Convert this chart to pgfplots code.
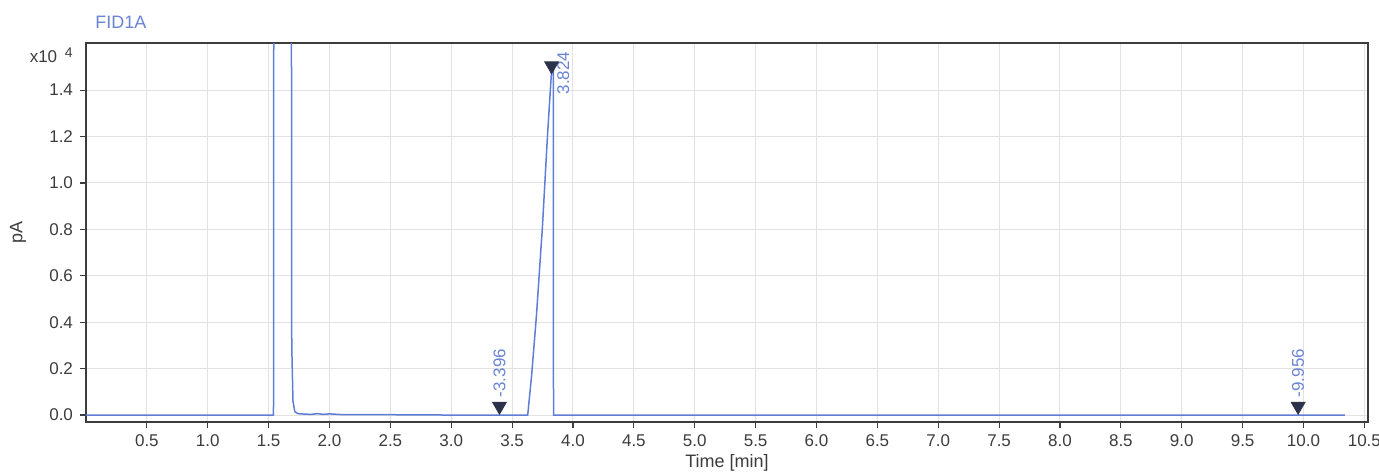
\documentclass[border=0pt]{standalone}
\usepackage{pgfplots}
\pgfplotsset{compat=1.18}
\usepackage{fontspec}
\setmainfont{Liberation Sans}
\definecolor{sig}{RGB}{95,125,215}
\definecolor{lab}{RGB}{105,132,212}
\definecolor{mk}{RGB}{45,50,75}
\definecolor{axc}{RGB}{60,60,60}
\definecolor{grd}{RGB}{226,226,226}
\begin{document}
\begin{tikzpicture}
\begin{axis}[
    scale only axis,
    width=641pt, height=189.5pt,
    xmin=0, xmax=10.53,
    ymin=-0.03, ymax=1.603,
    xtick={0.5,1,1.5,2,2.5,3,3.5,4,4.5,5,5.5,6,6.5,7,7.5,8,8.5,9,9.5,10,10.5},
    ytick={0,0.2,0.4,0.6,0.8,1.0,1.2,1.4},
    /pgf/number format/assume math mode=true,
    xticklabel style={/pgf/number format/fixed,/pgf/number format/fixed zerofill,/pgf/number format/precision=1},
    yticklabel style={/pgf/number format/fixed,/pgf/number format/fixed zerofill,/pgf/number format/precision=1},
    tick label style={font=\fontsize{8.5}{10}\selectfont, color=axc},
    tick align=outside,
    major tick length=3pt,
    tick style={axc, line width=0.6pt},
    xtick pos=bottom, ytick pos=left,
    axis line style={axc, line width=0.9pt},
    grid=major,
    grid style={grd, line width=0.5pt},
    xlabel={Time [min]},
    ylabel={pA},
    label style={font=\fontsize{9}{11}\selectfont, color=axc},
    xlabel style={at={(axis description cs:0.5,0)}, yshift=-20.5pt, anchor=center},
    ylabel style={at={(axis description cs:-0.053,0.5)}, anchor=center},
    clip=true,
    ]
    \addplot [sig, line width=0.75pt] table {
    0.00 0.000
    1.540 0.000
    1.548 6.000
    1.680 6.000
    1.690 0.300
    1.700 0.060
    1.715 0.015
    1.740 0.006
    1.800 0.004
    1.850 0.003
    1.900 0.006
    1.950 0.003
    2.000 0.005
    2.100 0.002
    2.300 0.002
    3.000 0.000
    3.628 0.000
    3.660 0.170
    3.700 0.430
    3.750 0.820
    3.790 1.200
    3.826 1.500
    3.838 1.500
    3.840 0.000
    10.34 0.000
    };
    \addplot [only marks, mark=triangle*, mark size=4pt, mk,
        mark options={rotate=180, fill=mk, draw=mk}] table {
    3.396 0.038
    3.824 1.505
    9.956 0.038
    };
    \node [rotate=90, anchor=west, color=lab, font=\fontsize{8.5}{10}\selectfont, inner sep=0pt] at (axis cs:3.396,0.075) {-3.396};
    \node [rotate=90, anchor=west, color=lab, font=\fontsize{8.5}{10}\selectfont, inner sep=0pt] at (axis cs:9.956,0.075) {-9.956};
    \node [rotate=90, anchor=west, color=lab, font=\fontsize{8.5}{10}\selectfont, inner sep=0pt] at (axis cs:3.92,1.38) {3.824};
\end{axis}
\node [anchor=east, color=axc, font=\fontsize{8.5}{10}\selectfont, inner sep=0pt] at ([xshift=-6.5pt,yshift=-6pt]current axis.north west) {x10\hspace{0.45em}\raisebox{0.6ex}{\fontsize{7}{8}\selectfont 4}};
\node [anchor=west, color=lab, font=\fontsize{9}{11}\selectfont, inner sep=0pt] at ([xshift=4.5pt,yshift=10.5pt]current axis.north west) {FID1A};
\pgfresetboundingbox
\path [use as bounding box] ([xshift=-43pt,yshift=-26pt]current axis.south west) rectangle ([xshift=5.5pt,yshift=21.5pt]current axis.north east);
\end{tikzpicture}
\end{document}
